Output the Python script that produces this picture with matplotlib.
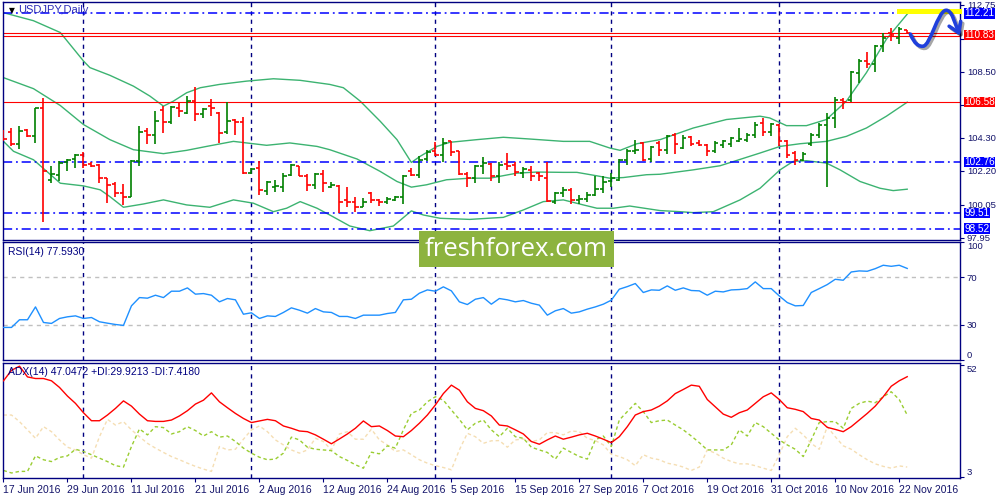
import numpy as np
import pandas as pd
import matplotlib
matplotlib.use("Agg")
import matplotlib.pyplot as plt
import matplotlib.transforms as mtrans
import matplotlib.patheffects as pe
from matplotlib.patches import Rectangle, FancyArrowPatch
from matplotlib.path import Path

plt.rcParams['font.family'] = ['Liberation Sans', 'DejaVu Sans']

# ---------------- data ----------------
symbol = "USDJPY,Daily"
dates = pd.bdate_range("2016-06-17", "2016-11-23")   # daily bars

opens = [104.75, 104.67, 103.92, 104.78, 104.44, 106.16, 101.63, 101.95, 102.73, 102.95,
         103.22, 102.65, 102.54, 101.73, 101.37, 100.77, 100.56, 102.84, 104.71, 104.50,
         106.05, 105.29, 106.16, 105.88, 106.63, 105.78, 106.31, 105.88, 104.65, 105.45,
         105.29, 102.05, 102.37, 100.94, 101.16, 101.20, 101.95, 102.48, 101.88, 101.31,
         102.01, 101.20, 101.24, 100.35, 100.24, 99.92, 100.77, 100.35, 100.24, 100.35,
         100.52, 102.16, 101.95, 102.95, 103.44, 103.22, 104.07, 103.44, 102.01, 101.73,
         102.48, 102.65, 101.88, 102.65, 102.58, 102.05, 102.22, 102.05, 101.73, 100.24,
         100.77, 100.99, 100.35, 100.39, 100.67, 101.03, 101.52, 101.63, 102.90, 103.44,
         103.97, 102.95, 103.97, 103.54, 104.50, 103.65, 104.35, 103.97, 103.86, 103.44,
         103.86, 103.92, 104.10, 104.18, 104.50, 105.24, 104.65, 105.14, 104.07, 103.33,
         102.90, 103.92, 104.50, 105.14, 105.56, 106.73, 106.73, 108.44, 109.18, 108.97,
         110.14, 110.99, 110.67, 111.14]
highs = [104.82, 104.92, 105.07, 104.86, 106.20, 106.84, 102.48, 102.80, 102.95, 103.29,
         103.39, 102.75, 102.63, 101.77, 101.46, 101.37, 102.90, 105.03, 104.92, 105.99,
         106.35, 106.31, 106.56, 106.95, 107.54, 106.20, 106.78, 105.92, 106.56, 105.50,
         105.63, 102.37, 102.84, 101.52, 101.63, 102.05, 102.65, 102.52, 102.01, 102.05,
         102.26, 101.50, 101.31, 101.16, 100.52, 100.46, 100.88, 100.39, 100.56, 100.60,
         101.95, 102.37, 103.12, 103.50, 104.01, 104.29, 104.10, 103.48, 102.10, 102.58,
         103.07, 102.70, 102.73, 103.33, 102.73, 102.43, 102.48, 102.10, 102.75, 100.88,
         101.20, 101.09, 100.67, 100.88, 101.84, 101.84, 102.05, 102.95, 103.58, 104.18,
         104.01, 103.80, 104.07, 104.50, 104.61, 104.50, 104.39, 104.18, 103.92, 104.07,
         104.18, 104.35, 104.92, 104.61, 105.29, 105.56, 105.24, 105.18, 104.14, 103.44,
         103.37, 104.61, 105.24, 105.88, 106.90, 106.84, 108.54, 109.33, 109.76, 110.20,
         110.99, 111.27, 111.31, 111.16]
lows = [104.08, 103.75, 103.58, 104.35, 103.97, 98.96, 101.41, 101.52, 102.16, 102.37,
        102.37, 102.43, 101.41, 100.18, 100.56, 100.03, 100.52, 102.48, 103.92, 103.92,
        104.60, 105.20, 105.63, 105.78, 105.35, 105.56, 105.71, 103.97, 104.55, 104.50,
        102.01, 102.01, 100.67, 100.67, 100.82, 100.82, 101.84, 101.84, 100.94, 101.03,
        100.82, 101.10, 99.50, 99.92, 99.60, 99.88, 100.18, 99.96, 100.09, 100.31,
        100.09, 101.84, 101.73, 102.80, 103.16, 102.75, 103.12, 101.95, 101.16, 101.41,
        102.01, 101.52, 101.41, 102.26, 101.88, 101.73, 101.52, 101.52, 100.24, 100.09,
        100.56, 100.09, 100.09, 100.24, 100.60, 100.77, 101.20, 101.52, 102.58, 103.29,
        102.80, 102.75, 103.12, 103.29, 103.29, 103.58, 103.75, 103.75, 103.12, 103.33,
        103.65, 103.71, 104.01, 104.01, 104.29, 104.44, 104.39, 103.75, 103.01, 102.58,
        102.80, 103.75, 104.29, 101.16, 104.92, 106.10, 106.60, 107.76, 108.76, 108.48,
        109.76, 110.46, 110.25, 110.88]
closes = [104.20, 103.92, 104.71, 104.44, 106.16, 102.20, 102.01, 102.69, 102.86, 103.22,
          102.54, 102.52, 101.73, 101.31, 100.77, 100.56, 102.84, 104.69, 104.50, 105.35,
          105.30, 106.27, 105.99, 106.63, 105.84, 106.10, 106.16, 104.61, 105.35, 105.30,
          102.05, 102.31, 100.99, 101.46, 101.24, 101.84, 102.58, 101.88, 101.31, 102.01,
          101.41, 101.30, 100.24, 100.20, 99.88, 100.24, 100.35, 100.24, 100.39, 100.52,
          101.84, 101.95, 102.90, 103.37, 103.22, 103.97, 103.39, 102.01, 101.73, 102.48,
          102.69, 101.88, 102.58, 102.48, 102.10, 102.31, 101.88, 101.84, 100.29, 100.77,
          100.99, 100.35, 100.39, 100.67, 101.03, 101.46, 101.73, 102.90, 103.44, 103.54,
          102.86, 103.70, 103.54, 104.39, 103.92, 104.29, 103.92, 103.86, 103.44, 103.97,
          104.07, 104.29, 104.25, 104.50, 105.14, 104.65, 105.20, 104.07, 103.22, 102.90,
          103.29, 104.50, 105.14, 105.56, 106.73, 106.56, 108.48, 109.18, 108.97, 110.14,
          110.67, 110.82, 111.20, 110.95]

# Bollinger bands (read at bar positions)
upper_x = [0, 3.75, 7.1, 10, 10.8, 13.3, 16.25, 18.3, 20, 21.25, 22.9, 24.6, 27, 30.4, 33.75,
           37.1, 40.8, 42.5, 44.6, 47.1, 49.2, 51.0, 52.1, 54.2, 55.8, 59.2, 62.5, 65.8, 70,
           73.3, 75.8, 77.1, 79.2, 82.1, 86.25, 90.4, 94.6, 95.8, 97.9, 100.4, 102.9, 105.4,
           107.9, 110.4, 113]
upper = [112.25, 111.74, 110.99, 109.18, 108.76, 108.27, 107.58, 106.95, 106.31, 106.63,
         107.16, 107.48, 107.69, 107.90, 108.05, 107.95, 107.69, 107.48, 106.63, 105.35,
         104.18, 102.73, 103.12, 103.75, 104.01, 104.18, 104.33, 104.22, 104.07, 104.07,
         103.65, 103.50, 103.92, 104.18, 104.92, 105.46, 105.67, 105.56, 105.07, 105.07,
         105.46, 106.63, 108.44, 110.57, 112.16]
mid_x = [0, 3.75, 7.1, 10, 13.3, 16.25, 20, 22.9, 25.4, 28.75, 30.4, 32.9, 35.8, 39.2, 40.8,
         44.2, 47.1, 49.2, 51, 52.9, 55.4, 58.3, 60.8, 64.2, 66.7, 70, 71.7, 74.2, 75.8, 77.5,
         80.4, 82.1, 86.25, 89.6, 94.6, 97.1, 99.6, 102.9, 105.4, 107.9, 110.4, 113]
middle = [108.12, 107.42, 106.35, 105.14, 104.18, 103.54, 103.29, 103.50, 103.75, 104.07,
          103.97, 103.82, 103.97, 103.75, 103.54, 102.95, 102.16, 101.52, 101.16, 101.31,
          101.63, 101.73, 101.73, 102.05, 102.12, 102.10, 102.10, 101.88, 101.73, 101.77,
          101.95, 101.98, 102.26, 102.52, 103.33, 103.75, 103.92, 104.07, 104.39, 104.92,
          105.67, 106.56]
low_x = [0, 1.25, 3.75, 7.1, 10, 12.1, 13.3, 15, 17.5, 20, 22.9, 25.8, 28.75, 31.25, 33.75,
         35.4, 37.1, 39.2, 40.8, 43.3, 45.8, 48.75, 51, 52.5, 54.6, 58.3, 62.5, 65, 67.5, 70,
         72.5, 74.2, 76.25, 78.3, 82.1, 84.6, 86.25, 88.75, 92.1, 94.6, 97.1, 98.75, 100.4,
         102.9, 104.6, 107.1, 109.6, 111.25, 113]
lower = [104.07, 103.44, 102.90, 101.41, 101.24, 100.99, 100.56, 99.88, 100.09, 100.35,
         100.03, 99.88, 100.35, 100.14, 99.60, 99.82, 100.24, 99.82, 99.39, 98.69, 98.39,
         98.69, 99.65, 99.39, 99.18, 99.11, 99.24, 99.71, 100.24, 100.35, 100.03, 99.82,
         99.82, 99.96, 99.67, 99.60, 99.54, 99.60, 100.35, 101.09, 102.26, 102.80, 102.84,
         102.69, 102.26, 101.52, 101.09, 100.94, 101.03]

rsi = [27.6, 27.6, 34.1, 34.1, 45.0, 31.8, 31.0, 35.2, 36.6, 37.4,
       35.2, 36.0, 32.4, 31.2, 30.1, 29.3, 45.9, 52.9, 52.4, 54.9,
       52.9, 58.3, 58.3, 61.1, 55.8, 56.3, 54.9, 49.3, 52.1, 51.0,
       38.8, 40.0, 35.2, 37.4, 36.9, 40.3, 44.2, 42.2, 39.7, 43.6,
       40.8, 40.3, 36.9, 36.9, 35.2, 38.0, 38.0, 38.0, 39.4, 40.3,
       51.0, 51.5, 56.6, 59.4, 58.3, 62.0, 58.6, 49.3, 47.0, 51.5,
       52.9, 47.3, 52.1, 51.0, 49.3, 50.4, 48.1, 46.5, 38.0, 41.7,
       43.6, 39.7, 40.8, 43.1, 45.0, 47.3, 50.7, 60.0, 62.2, 64.8,
       57.2, 59.4, 59.1, 62.8, 59.1, 61.1, 58.9, 58.6, 54.9, 58.3,
       57.7, 59.4, 59.7, 60.5, 66.2, 60.5, 60.5, 54.3, 48.7, 45.9,
       46.2, 57.2, 60.5, 63.9, 68.4, 67.6, 74.6, 75.5, 75.2, 77.4,
       80.3, 79.4, 80.3, 77.6]

adx = [45.2, 49.8, 51.6, 46.9, 46.2, 46.2, 45.2, 42.3, 38.5, 35.3,
       31.2, 27.7, 27.7, 30.2, 33.1, 36.4, 34.1, 30.6, 27.7, 27.4,
       27.4, 28.0, 29.8, 32.1, 35.0, 36.7, 39.9, 36.0, 33.4, 30.9,
       28.7, 26.9, 27.6, 28.3, 27.7, 25.4, 24.4, 23.2, 22.9, 21.5,
       19.6, 17.6, 19.7, 21.9, 24.4, 27.6, 25.1, 25.4, 23.4, 21.0,
       20.7, 23.4, 26.6, 30.2, 34.6, 39.6, 43.3, 41.1, 36.0, 33.1,
       32.1, 29.8, 25.8, 25.4, 23.7, 21.9, 18.6, 17.4, 19.3, 21.0,
       19.6, 20.5, 21.5, 22.2, 21.0, 19.6, 18.1, 20.7, 25.1, 30.2,
       31.7, 32.4, 34.1, 36.4, 39.6, 41.4, 43.3, 42.8, 37.0, 33.8,
       30.6, 29.2, 31.2, 32.4, 35.3, 38.2, 39.9, 37.0, 33.4, 32.7,
       31.7, 28.7, 28.0, 24.8, 23.9, 22.9, 25.1, 28.0, 30.9, 34.1,
       38.2, 42.8, 45.2, 47.0]
plus_di = [5.9, 4.8, 5.5, 5.5, 12.3, 10.6, 9.8, 11.6, 12.3, 15.2,
           14.2, 12.8, 11.3, 9.8, 8.0, 7.4, 16.4, 24.1, 21.5, 25.1,
           24.7, 21.9, 22.9, 25.1, 23.4, 21.0, 22.9, 20.5, 21.0, 18.6,
           15.7, 13.5, 11.7, 10.6, 10.9, 13.5, 20.5, 19.3, 16.1, 15.2,
           14.9, 14.6, 12.0, 10.3, 8.4, 6.9, 13.9, 13.2, 16.7, 15.7,
           23.7, 30.9, 32.4, 36.0, 38.2, 36.7, 32.4, 28.3, 23.7, 26.6,
           28.0, 23.7, 20.7, 24.4, 20.7, 20.0, 16.1, 14.9, 13.8, 10.9,
           15.7, 13.8, 12.0, 10.9, 19.3, 21.0, 16.4, 28.0, 31.7, 35.3,
           31.7, 26.9, 27.7, 28.0, 25.8, 23.7, 21.0, 18.1, 14.9, 14.9,
           14.9, 17.1, 23.7, 21.0, 26.9, 25.1, 22.2, 19.3, 17.1, 15.2,
           12.0, 19.3, 26.9, 27.3, 27.3, 24.4, 33.1, 35.3, 36.3, 35.6,
           38.2, 40.4, 37.0, 30.2]
minus_di = [30.2, 30.2, 27.3, 23.7, 20.0, 25.1, 22.9, 19.3, 16.1, 14.9,
            12.8, 11.3, 20.7, 28.3, 25.8, 27.3, 23.7, 20.7, 17.8, 15.7,
            13.8, 12.0, 10.6, 9.1, 7.7, 6.5, 5.5, 16.4, 14.9, 15.2,
            19.6, 23.7, 25.4, 22.9, 19.3, 17.1, 14.9, 13.5, 14.9, 20.0,
            18.6, 14.9, 21.9, 22.9, 19.6, 19.6, 24.0, 19.3, 17.1, 14.2,
            14.9, 12.8, 10.6, 9.1, 8.0, 7.2, 6.2, 14.9, 22.2, 20.7,
            17.8, 18.9, 19.0, 16.1, 19.3, 19.7, 18.6, 19.3, 22.5, 22.5,
            21.5, 23.2, 22.9, 20.0, 19.0, 17.1, 13.0, 12.0, 10.6, 8.0,
            12.8, 11.3, 10.6, 9.1, 8.4, 7.4, 5.9, 7.4, 14.9, 13.5,
            11.3, 9.8, 8.8, 8.8, 8.0, 6.9, 5.9, 12.8, 20.7, 24.4,
            21.5, 17.8, 15.2, 25.1, 20.7, 16.7, 15.2, 12.8, 10.6, 8.8,
            7.7, 6.9, 7.9, 7.4]

blue_levels = [112.21, 102.76, 99.51, 98.52]
red_levels = [110.93, 110.74, 106.58]
level_tags = [112.21, 110.83, 106.58, 102.76, 99.51, 98.52]
level_tag_colors = ['blue', 'red', 'red', 'blue', 'blue', 'blue']
price_ticks = [97.95, 100.05, 102.20, 104.30, 106.40, 108.50, 110.60, 112.75]
hidden_ticks = [106.40, 110.60]          # covered by level tags in the reference
rsi_levels = [30, 70]
rsi_ticks = [0, 30, 70, 100]
adx_ticks = [3, 52]
rsi_title = "RSI(14) 77.5930"
adx_title = "ADX(14) 47.0472 +DI:29.9213 -DI:7.4180"
watermark = "freshforex.com"

# hand-drawn forecast (bar, price)
target_zone = (111.7, 119.9, 112.17, 112.48)
forecast_pts = [(113.4, 110.89), (113.9, 110.25), (114.5, 110.08), (115.0, 110.12),
                (115.9, 110.18), (116.8, 112.30), (117.8, 112.40),
                (118.6, 112.48), (119.0, 111.50), (119.6, 110.78)]

# ---------------- figure ----------------
NAVY = '#000080'
TXT = '#14146a'
fig = plt.figure(figsize=(10, 5), dpi=100, facecolor='white')
L, W = 0.0027, 0.9573
ax1 = fig.add_axes([L, 0.520, W, 0.476])
ax2 = fig.add_axes([L, 0.280, W, 0.236])
ax3 = fig.add_axes([L, 0.044, W, 0.230])

x = np.arange(len(dates))
seps = [i for i in range(1, len(dates)) if dates[i].month != dates[i - 1].month]

for ax in (ax1, ax2, ax3):
    ax.set_xlim(-0.1, 119.6)
    for s in ax.spines.values():
        s.set_color(NAVY)
        s.set_linewidth(1.0)
    ax.yaxis.tick_right()
    ax.tick_params(axis='y', direction='out', length=3, width=0.8, color=NAVY,
                   labelsize=6.8, labelcolor=TXT, pad=2)
    ax.tick_params(axis='x', bottom=False, labelbottom=False)
    for i in seps:
        ax.axvline(i, color=NAVY, lw=1.0, ls=(0, (3, 3)), zorder=1)

# ---- price panel ----
o = np.array(opens); h = np.array(highs); l = np.array(lows); c = np.array(closes)
cols = np.where(c >= o, '#008000', '#ff0000')
ax1.vlines(x, l, h, colors=cols, lw=1.2, zorder=3)
ax1.hlines(o, x - 0.4, x, colors=cols, lw=1.2, zorder=3)
ax1.hlines(c, x, x + 0.4, colors=cols, lw=1.2, zorder=3)

band_col = '#3cb371'
ax1.plot(upper_x, upper, color=band_col, lw=1, zorder=2)
ax1.plot(mid_x, middle, color=band_col, lw=1, zorder=2)
ax1.plot(low_x, lower, color=band_col, lw=1, zorder=2)

for v in blue_levels:
    ax1.axhline(v, color='#0000ff', lw=1.1, ls=(0, (6, 2.5, 1.2, 2.5)), zorder=2)
for v in red_levels:
    ax1.axhline(v, color='#ff0000', lw=0.8, zorder=2)

ax1.set_ylim(97.80, 112.93)
ax1.set_yticks(price_ticks)
ax1.set_yticklabels(["" if v in hidden_ticks else f"{v:.2f}" for v in price_ticks])

tr = mtrans.blended_transform_factory(ax1.transAxes, ax1.transData)
for v, col in zip(level_tags, level_tag_colors):
    fc = '#0000ff' if col == 'blue' else '#ff0000'
    ax1.text(1.0045, v, f"{v:.2f}", transform=tr, ha='left', va='center',
             color='white', fontsize=7.2, clip_on=False, zorder=10,
             bbox=dict(boxstyle='square,pad=0.02', fc=fc, ec='none'))

x0, x1, y0, y1 = target_zone
ax1.add_patch(Rectangle((x0, y0), x1 - x0, y1 - y0, fc='#ffff00', ec='none',
                        zorder=4, clip_on=False))
codes = [Path.MOVETO] + [Path.CURVE4] * 9
arrow = FancyArrowPatch(path=Path(forecast_pts, codes),
                        arrowstyle='->,head_length=0.7,head_width=0.45',
                        mutation_scale=10, color='#1f3fdc', lw=2.6,
                        transform=ax1.transData, clip_on=False, zorder=11)
arrow.set_path_effects([pe.SimpleLineShadow(offset=(1.5, -1.5), alpha=0.35), pe.Normal()])
ax1.add_patch(arrow)

ax1.text(0.0065, 0.966, "\u25BC", transform=ax1.transAxes, fontsize=5.5,
         color='black', ha='left', va='center', family='DejaVu Sans')
ax1.text(0.0165, 0.966, symbol, transform=ax1.transAxes, fontsize=8,
         color='#2a2ab8', ha='left', va='center')

# ---- RSI panel ----
ax2.plot(x, rsi, color='#1e90ff', lw=1, zorder=3)
for v in rsi_levels:
    ax2.axhline(v, color='#c0c0c0', lw=1, ls=(0, (3, 3)), zorder=1)
ax2.set_ylim(0, 100)
ax2.set_yticks(rsi_ticks)
ax2.set_yticklabels([str(v) for v in rsi_ticks])
tks = ax2.yaxis.get_major_ticks()
tks[0].label2.set_va('bottom')
tks[-1].label2.set_va('top')
ax2.text(0.0055, 0.918, rsi_title, transform=ax2.transAxes, fontsize=7.5,
         color=NAVY, ha='left', va='center')

# ---- ADX panel ----
ax3.plot(x, minus_di, color='#f5deb3', lw=1, ls=(0, (2.5, 2)), zorder=2)
ax3.plot(x, plus_di, color='#9acd32', lw=1, ls=(0, (2.5, 2)), zorder=2)
ax3.plot(x, adx, color='#ff0000', lw=1, zorder=3)
ax3.set_ylim(2.6, 53.0)
ax3.set_yticks(adx_ticks)
ax3.set_yticklabels([str(v) for v in adx_ticks])
tks = ax3.yaxis.get_major_ticks()
tks[0].label2.set_va('bottom')
tks[-1].label2.set_va('top')
ax3.text(0.0055, 0.924, adx_title, transform=ax3.transAxes, fontsize=7.5,
         color=NAVY, ha='left', va='center')

ax3.set_xticks(x[::8])
ax3.set_xticklabels([f"{d.day} {d.strftime('%b %Y')}" for d in dates[::8]], ha='left')
ax3.tick_params(axis='x', bottom=True, labelbottom=True, direction='out', length=3,
                width=0.8, color=NAVY, labelsize=7.5, labelcolor=TXT, pad=2)

# ---- watermark ----
fig.patches.append(Rectangle((0.419, 0.4666), 0.195, 0.0714, transform=fig.transFigure,
                             fc='#8db33f', ec='none', zorder=5))
fig.text(0.5165, 0.502, watermark, ha='center', va='center', color='white',
         fontsize=18.5, family='Open Sans', zorder=6)

fig.savefig('out.png', dpi=100, facecolor='white')
